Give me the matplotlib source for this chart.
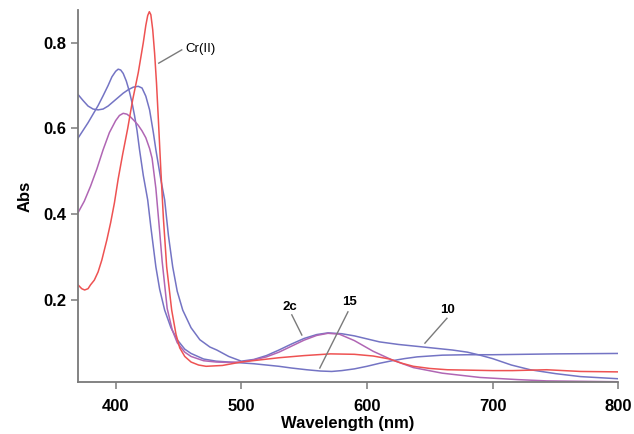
import numpy as np
import matplotlib
matplotlib.use('Agg')
import matplotlib.pyplot as plt

plt.rcParams['font.family'] = ['Liberation Sans', 'DejaVu Sans']

# ---- data (wavelength nm, absorbance) ----
wl_P = [370, 374, 378, 382, 386, 390, 394, 397, 400, 402, 404, 406, 408.5, 411, 413, 415, 417, 419, 422, 425.5,
        428, 432, 435, 439, 444, 449, 455, 460, 470, 480, 490, 500, 510, 520, 530, 540, 552, 563, 572, 580,
        590, 600, 610, 620, 630, 640, 650, 660, 680, 700, 750, 800]
abs_P = [0.577, 0.595, 0.613, 0.633, 0.653, 0.676, 0.70, 0.72, 0.733, 0.738, 0.736, 0.728, 0.71, 0.685, 0.66, 0.63, 0.595, 0.55, 0.49, 0.433,
         0.37, 0.277, 0.225, 0.176, 0.135, 0.107, 0.085, 0.075, 0.062, 0.057, 0.055, 0.053, 0.051, 0.048, 0.045, 0.041, 0.037, 0.034, 0.033, 0.035,
         0.039, 0.045, 0.052, 0.058, 0.063, 0.067, 0.069, 0.071, 0.072, 0.072, 0.074, 0.075]

wl_Q = [370, 374, 378, 382, 386, 390, 394, 398, 402, 406, 410, 414, 418, 421, 424, 427, 430, 432, 436, 439,
        442, 445.4, 449, 453.4, 460, 467, 475, 480.5, 490, 500, 510, 520, 530, 540, 550, 560, 569, 580, 590, 600,
        610, 625, 645, 668, 680, 690, 700, 715, 730, 750, 770, 800]
abs_Q = [0.679, 0.665, 0.652, 0.645, 0.643, 0.645, 0.652, 0.662, 0.672, 0.682, 0.69, 0.696, 0.698, 0.694, 0.675, 0.643, 0.59, 0.55, 0.48, 0.433,
         0.35, 0.277, 0.22, 0.176, 0.135, 0.107, 0.09, 0.083, 0.068, 0.057, 0.061, 0.07, 0.083, 0.097, 0.11, 0.119, 0.123, 0.121, 0.116, 0.109,
         0.102, 0.096, 0.090, 0.083, 0.078, 0.071, 0.063, 0.048, 0.037, 0.028, 0.021, 0.016]

wl_C = [370, 375, 380, 385, 390, 395, 400, 403, 406, 409, 412, 415, 418, 421, 424, 427, 429, 432, 435, 437,
        441, 445, 449, 455, 460, 470, 480, 490, 500, 510, 520, 530, 540, 550, 560, 569, 578, 590, 605, 620,
        637, 660, 690, 720, 743, 800]
abs_C = [0.403, 0.43, 0.465, 0.505, 0.55, 0.59, 0.618, 0.63, 0.635, 0.633, 0.626, 0.617, 0.607, 0.594, 0.578, 0.553, 0.53, 0.46, 0.36, 0.29,
         0.18, 0.13, 0.10, 0.078, 0.068, 0.058, 0.055, 0.054, 0.055, 0.06, 0.067, 0.078, 0.092, 0.106, 0.117, 0.122, 0.12, 0.105, 0.08, 0.06,
         0.042, 0.029, 0.019, 0.014, 0.011, 0.009]

wl_Cr = [370, 373, 375.3, 378, 380, 383, 386, 389, 393, 396, 399, 402, 405.6, 409.6, 413.5, 418, 422, 424, 425.5, 426.8,
         428, 429.5, 431, 432.5, 434, 436, 438, 440.6, 444.6, 448, 451, 455, 460, 466, 472, 485, 500, 515, 530, 550,
         571, 590, 605, 618, 628, 637, 650, 664, 700, 716, 743, 770, 800]
abs_Cr = [0.235, 0.226, 0.223, 0.226, 0.235, 0.246, 0.265, 0.293, 0.34, 0.38, 0.426, 0.482, 0.54, 0.60, 0.666, 0.73, 0.80, 0.84, 0.863, 0.872,
          0.865, 0.83, 0.775, 0.706, 0.62, 0.50, 0.39, 0.277, 0.176, 0.12, 0.088, 0.068, 0.055, 0.048, 0.045, 0.047, 0.055, 0.06, 0.065, 0.07,
          0.074, 0.073, 0.069, 0.062, 0.052, 0.045, 0.04, 0.037, 0.035, 0.035, 0.037, 0.033, 0.032]

# labels: text, text position, leader line start, leader line end
lab_txt = ['Cr(II)', '2c', '15', '10']
lab_pos = [(467.7, 0.785), (538.6, 0.183), (586.5, 0.195), (664.5, 0.176)]
lab_from = [(452.6, 0.783), (540.2, 0.165), (584.9, 0.172), (663.7, 0.157)]
lab_to = [(434.3, 0.752), (548.2, 0.118), (562.5, 0.041), (646.2, 0.099)]

blue = '#7474c4'
purple = '#b066b4'
red = '#ee5252'
gray = '#7a7a7a'

fig = plt.figure(figsize=(6.34, 4.34), dpi=100)
ax = fig.add_axes([0.123, 0.12, 0.852, 0.857])

ax.plot(wl_P, abs_P, color=blue, lw=1.1, solid_joinstyle='round')
ax.plot(wl_Q, abs_Q, color=blue, lw=1.1, solid_joinstyle='round')
ax.plot(wl_C, abs_C, color=purple, lw=1.1, solid_joinstyle='round')
ax.plot(wl_Cr, abs_Cr, color=red, lw=1.1, solid_joinstyle='round')

for t, p, a, b in zip(lab_txt, lab_pos, lab_from, lab_to):
    ax.plot([a[0], b[0]], [a[1], b[1]], color=gray, lw=1.0)
    ax.text(p[0], p[1], t, ha='center', va='center', fontsize=9.5,
            fontweight='normal' if t == 'Cr(II)' else 'bold')

ax.set_xlim(370, 800)
ax.set_ylim(0.0086, 0.876)
ax.set_xticks([400, 500, 600, 700, 800])
ax.set_yticks([0.2, 0.4, 0.6, 0.8])
ax.set_yticklabels(['0.2', '0.4', '0.6', '0.8'])

for s in ['top', 'right']:
    ax.spines[s].set_visible(False)
for s in ['left', 'bottom']:
    ax.spines[s].set_color(gray)
    ax.spines[s].set_linewidth(1.3)

ax.tick_params(axis='both', direction='out', length=5, width=1.1, color=gray, labelsize=12)
ax.tick_params(axis='x', pad=7)
ax.tick_params(axis='y', pad=3)
for lbl in ax.get_xticklabels() + ax.get_yticklabels():
    lbl.set_fontweight('bold')

ax.set_xlabel('Wavelength (nm)', fontsize=12, fontweight='bold', labelpad=2)
ax.set_ylabel('Abs', fontsize=12, fontweight='bold', labelpad=8)

fig.savefig('out.png', dpi=100)
